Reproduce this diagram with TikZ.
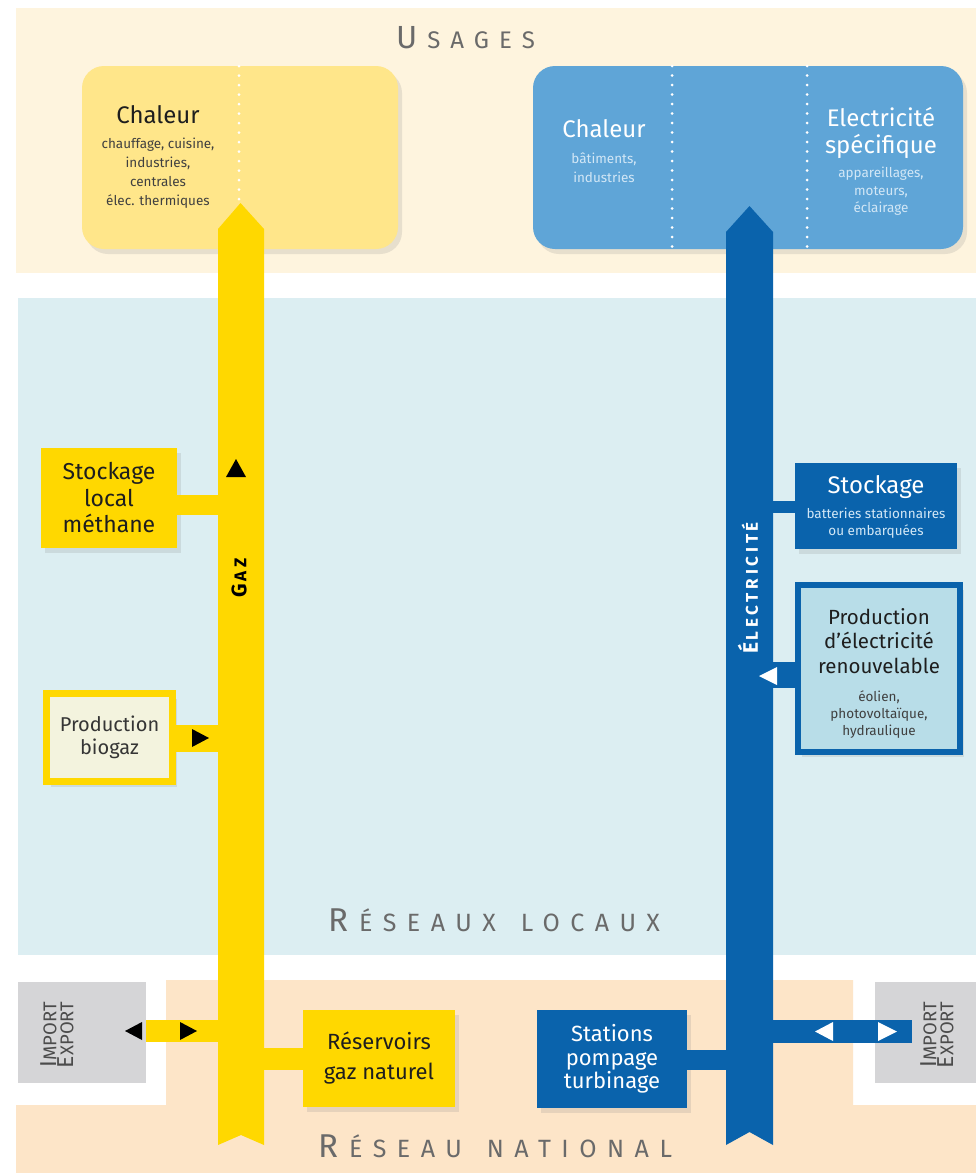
\documentclass[tikz,border=0pt]{standalone}
\usepackage{fontspec}
\setmainfont{Fira Sans}
\newfontfamily\ttlfont[LetterSpace=42]{Fira Sans}
\newfontfamily\lblfont[LetterSpace=22]{Fira Sans}
\usetikzlibrary{shadows}
\definecolor{usagesbg}{HTML}{FEF4DE}
\definecolor{locbg}{HTML}{DCEEF2}
\definecolor{natbg}{HTML}{FDE5C8}
\definecolor{gasc}{HTML}{FFD800}
\definecolor{topyel}{HTML}{FFE68A}
\definecolor{topblue}{HTML}{5FA5D7}
\definecolor{elec}{HTML}{0A63AC}
\definecolor{prodfill}{HTML}{B8DDE8}
\definecolor{biofill}{HTML}{F3F3DE}
\definecolor{greybox}{HTML}{D5D5D7}
\definecolor{titlegrey}{HTML}{6A6A6A}
\definecolor{darktext}{HTML}{1E1E1E}
\definecolor{paleblue}{HTML}{D2E7F6}
\newcommand\bgsm[5]{{\fontsize{#1}{#1}\selectfont #3}\hspace{#5}{\fontsize{#2}{#2}\selectfont #4}}
\begin{document}
\begin{tikzpicture}[x=1pt,y=-1pt,
  shd/.style={drop shadow={opacity=0.18, shadow xshift=4pt, shadow yshift=-5pt}},
  topbox/.style={rectangle, rounded corners=22pt, inner sep=0pt, shd},
  gasbox/.style={rectangle, fill=gasc, inner sep=0pt, align=center, text=darktext, shd},
  elecbox/.style={rectangle, fill=elec, inner sep=0pt, align=center, text=white, shd},
  greyb/.style={rectangle, fill=greybox, inner sep=0pt},
  gasline/.style={draw=gasc},
  elecline/.style={draw=elec},
  dotline/.style={draw=white, line width=3pt, line cap=round, dash pattern=on 0pt off 9.5pt},
  txt/.style={inner sep=0pt, align=center},
  bandtitle/.style={inner sep=0pt, anchor=base west, text=titlegrey},
  rotlbl/.style={inner sep=0pt, rotate=90, align=center}
]
\useasboundingbox (0,0) rectangle (976,1173);
\fill[white] (0,0) rectangle (976,1173);
% bands
\fill[usagesbg] (16,8) rectangle (976,273);
\fill[locbg] (18,298) rectangle (976,955);
\fill[natbg] (166,980) -- (853,980) -- (853,1105) -- (976,1105) -- (976,1173) -- (16,1173) -- (16,1105) -- (166,1105) -- cycle;
% band titles
\node[bandtitle] (tUsages) at (396,48) {\ttlfont\bgsm{32}{24}{U}{SAGES}{10pt}};
\node[bandtitle] (tLocaux) at (328,931) {\ttlfont\bgsm{33}{25}{R}{ÉSEAUX\hspace{25pt}LOCAUX}{11pt}};
\node[bandtitle] (tNational) at (318,1157) {\ttlfont\bgsm{33}{25}{R}{ÉSEAU\hspace{25pt}NATIONAL}{11pt}};
% top boxes
\node[topbox, fill=topyel, minimum width=316pt, minimum height=183pt] (uGaz) at (240,157.5) {};
\node[topbox, fill=topblue, minimum width=430pt, minimum height=183pt] (uElec) at (748,157.5) {};
\draw[dotline] (239,66) -- (239,249);
\draw[dotline] (672,66) -- (672,249);
\draw[dotline] (807,66) -- (807,249);
\node[txt, anchor=base, text=darktext, font=\fontsize{24}{24}\selectfont] (gChT) at (158,123) {Chaleur};
\node[txt, anchor=north, text=darktext!85, font=\fontsize{13.5}{19}\selectfont] (gChS) at (158,138) {chauffage, cuisine,\\industries,\\centrales\\élec. thermiques};
\node[txt, anchor=base, text=white, font=\fontsize{24}{24}\selectfont] (eChT) at (604,137) {Chaleur};
\node[txt, anchor=north, text=paleblue, font=\fontsize{13.5}{18.5}\selectfont] (eChS) at (604,153) {bâtiments,\\industries};
\node[txt, anchor=north, text=white, font=\fontsize{24}{27}\selectfont] (eSpT) at (881,107) {Electricité\\spécifique};
\node[txt, anchor=north, text=paleblue, font=\fontsize{13.5}{17.5}\selectfont] (eSpS) at (881,167) {appareillages,\\moteurs,\\éclairage};
% boxes
\node[gasbox, minimum width=136pt, minimum height=100pt, font=\fontsize{23}{26.5}\selectfont] (stockL) at (109,498) {Stockage\\local\\méthane};
\node[rectangle, draw=gasc, line width=7pt, fill=biofill, inner sep=0pt, align=center, text=darktext!90, minimum width=126pt, minimum height=88pt, font=\fontsize{20}{23}\selectfont, shd] (bio) at (109.5,737.5) {Production\\biogaz};
\node[gasbox, minimum width=152pt, minimum height=97pt, font=\fontsize{22}{30}\selectfont] (reserv) at (379,1058.5) {Réservoirs\\gaz naturel};
\node[elecbox, minimum width=162pt, minimum height=86pt] (stockE) at (876,506) {};
\node[txt, anchor=base, text=white, font=\fontsize{24}{24}\selectfont] (stockET) at (876,493) {Stockage};
\node[txt, anchor=north, text=paleblue, font=\fontsize{13.5}{17}\selectfont] (stockES) at (876,508) {batteries stationnaires\\ou embarquées};
\node[rectangle, draw=elec, line width=6pt, fill=prodfill, inner sep=0pt, minimum width=162pt, minimum height=167pt, shd] (prodE) at (879,668.5) {};
\node[txt, anchor=north, text=darktext, font=\fontsize{20.5}{24.5}\selectfont] (prodET) at (879,608) {Production\\d’électricité\\renouvelable};
\node[txt, anchor=north, text=darktext!85, font=\fontsize{13.5}{17}\selectfont] (prodES) at (879,690) {éolien,\\photovoltaïque,\\hydraulique};
\node[elecbox, minimum width=150pt, minimum height=98pt, font=\fontsize{22}{23.5}\selectfont] (stations) at (612,1059) {Stations\\pompage\\turbinage};
\node[greyb, minimum width=128pt, minimum height=101pt] (impL) at (82,1032.5) {};
\node[greyb, minimum width=101pt, minimum height=101pt] (impR) at (925.5,1032.5) {};
\node[rotlbl, text=darktext!80] (impLT) at (57,1035) {\bgsm{23}{18.5}{I}{MPORT}{0.5pt}\\[0pt]\bgsm{23}{18.5}{E}{XPORT}{0.5pt}};
\node[rotlbl, text=darktext!80] (impRT) at (937,1035) {\bgsm{23}{18.5}{I}{MPORT}{0.5pt}\\[0pt]\bgsm{23}{18.5}{E}{XPORT}{0.5pt}};
% connector end points on the bars
\coordinate (gA) at (241,505);
\coordinate (gB) at (241,738.5);
\coordinate (gC) at (241,1059);
\coordinate (gD) at (241,1031);
\coordinate (eA) at (749,507);
\coordinate (eB) at (749,675);
\coordinate (eC) at (749,1060);
\coordinate (eD) at (749,1031.5);
\coordinate (eDend) at (912,1031.5);
% connectors
\draw[gasline, line width=20pt] (stockL.east |- gA) -- (gA);
\draw[gasline, line width=27pt] (bio.east |- gB) -- (gB);
\draw[gasline, line width=22pt] (reserv.west |- gC) -- (gC);
\draw[gasline, line width=22pt] (impL.east |- gD) -- (gD);
\draw[elecline, line width=12pt] (stockE.west |- eA) -- (eA);
\draw[elecline, line width=26pt] (prodE.west |- eB) -- (eB);
\draw[elecline, line width=20pt] (stations.east |- eC) -- (eC);
\draw[elecline, line width=23pt] (eD) -- (eDend);
% bars
\fill[gasc] (218,229) -- (240.5,203) -- (264,229) -- (264,1145) -- (241,1135) -- (218,1145) -- cycle;
\fill[elec] (726,232) -- (749.5,206) -- (773,232) -- (773,1145) -- (749.5,1132) -- (726,1145) -- cycle;
\node[rotlbl, text=black] (gazT) at (239,578) {\lblfont\bfseries\bgsm{21}{17}{G}{AZ}{2pt}};
\node[rotlbl, text=white] (elecT) at (748,588) {\lblfont\bfseries\bgsm{21}{17}{É}{LECTRICITÉ}{2.5pt}};
% triangles
\fill[black] (236,459) -- (246,477) -- (226,477) -- cycle;
\fill[black] (192,729) -- (209,738) -- (192,747) -- cycle;
\fill[black] (125,1031) -- (142,1022) -- (142,1040) -- cycle;
\fill[black] (180,1022) -- (197,1031) -- (180,1040) -- cycle;
\fill[white] (759,676) -- (777,667) -- (777,685) -- cycle;
\fill[white] (815,1031.5) -- (833,1022) -- (833,1041) -- cycle;
\fill[white] (878,1022) -- (897,1031.5) -- (878,1041) -- cycle;
\end{tikzpicture}
\end{document}
